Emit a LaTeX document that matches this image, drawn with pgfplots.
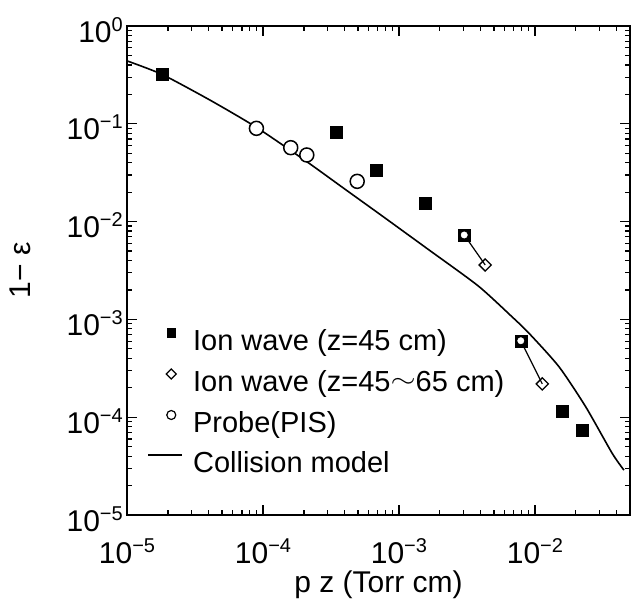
\documentclass[border=0pt]{standalone}
\usepackage{fontspec}
\setmainfont{Liberation Sans}
\usepackage{graphicx}
\usepackage{pgfplots}
\pgfplotsset{compat=1.18}
\newcommand\tickfont{\fontsize{30}{36}\selectfont}
\newcommand\legfont{\fontsize{29}{34}\selectfont}
\newcommand\pw[1]{10\raisebox{11pt}{\fontsize{20}{20}\selectfont #1}}
\pgfplotsset{
  markleg/.style={legend image code/.code={
    \path[draw=none, fill=none] (0pt,10pt) -- (34pt,10pt);
    \draw[##1] plot coordinates {(23pt,10pt)};}},
  lineleg/.style={legend image code/.code={
    \draw[##1] (0pt,10pt) -- (34pt,10pt);}},
}
\tikzset{tk/.style={black, line width=1.2pt}}

\begin{document}
\begin{tikzpicture}
\begin{axis}[
  scale only axis, width=503pt, height=489pt,
  xmode=log, ymode=log,
  xmin=1e-5, xmax=0.05, ymin=1e-5, ymax=1,
  xticklabels={}, yticklabels={},
  extra x ticks={1e-5,1e-4,1e-3,1e-2},
  extra x tick labels={\pw{−5},\pw{−4},\pw{−3},\pw{−2}},
  extra y ticks={1e-5,1e-4,1e-3,1e-2,1e-1,1},
  extra y tick labels={\pw{−5},\pw{−4},\pw{−3},\pw{−2},\pw{−1},\pw{0}},
  extra tick style={tickwidth=0pt, subtickwidth=0pt},
  tick align=inside,
  tickwidth=10pt, subtickwidth=5pt,
  tick style={black, line width=1.2pt},
  axis line style={line width=1.6pt},
  tick label style={font=\tickfont, inner sep=0pt},
  xticklabel style={anchor=base, yshift=-48pt},
  yticklabel style={anchor=base east, xshift=-4pt, yshift=-16pt},
  xlabel={p z (Torr cm)},
  ylabel={1− ε},
  label style={font=\tickfont},
  xlabel style={at={(rel axis cs:0.5,-0.1575)}, anchor=base},
  ylabel style={at={(rel axis cs:-0.2128,0.5)}, anchor=center},
  legend style={at={(rel axis cs:0,0)}, anchor=south west,
    xshift=20.5pt, yshift=36.5pt, draw=none, fill=none,
    font=\legfont, inner sep=0pt, outer sep=0pt,
    row sep=13pt, column sep=10pt,
    nodes={inner sep=0pt, text height=21pt, text depth=6pt}},
  legend cell align=left,
]
\addlegendimage{markleg, mark=square*, mark size=4.3pt, black}
\addlegendentry{Ion wave (z=45 cm)}
\addlegendimage{markleg, mark=square, mark size=3.5pt, line width=1.2pt, mark options={rotate=45}, black}
\addlegendentry{Ion wave (z=45\raisebox{4pt}{\scalebox{1.3}[1]{$\sim$}}65 cm)}
\addlegendimage{markleg, mark=o, mark size=4.5pt, line width=1.2pt, black}
\addlegendentry{Probe(PIS)}
\addlegendimage{lineleg, line width=1.6pt, black}
\addlegendentry{Collision model}

% frame ticks, all four sides, pointing inwards
\pgfplotsinvokeforeach{1e-5,1e-4,1e-3,1e-2}{
  \draw[tk] (axis cs:#1,1e-5) -- ++(0pt,10pt);
  \draw[tk] (axis cs:#1,1) -- ++(0pt,-10pt);
}
\pgfplotsinvokeforeach{1e-5,1e-4,1e-3,1e-2,1e-1,1}{
  \draw[tk] (axis cs:1e-5,#1) -- ++(10pt,0pt);
  \draw[tk] (axis cs:0.05,#1) -- ++(-10pt,0pt);
}
\pgfplotsinvokeforeach{2,3,4,5,6,7,8,9}{
  \draw[tk] (axis cs:#1e-5,1e-5) -- ++(0pt,5pt);
  \draw[tk] (axis cs:#1e-4,1e-5) -- ++(0pt,5pt);
  \draw[tk] (axis cs:#1e-3,1e-5) -- ++(0pt,5pt);
  \draw[tk] (axis cs:#1e-2,1e-5) -- ++(0pt,5pt);
  \draw[tk] (axis cs:#1e-5,1) -- ++(0pt,-5pt);
  \draw[tk] (axis cs:#1e-4,1) -- ++(0pt,-5pt);
  \draw[tk] (axis cs:#1e-3,1) -- ++(0pt,-5pt);
  \draw[tk] (axis cs:#1e-2,1) -- ++(0pt,-5pt);
  \draw[tk] (axis cs:1e-5,#1e-5) -- ++(5pt,0pt);
  \draw[tk] (axis cs:1e-5,#1e-4) -- ++(5pt,0pt);
  \draw[tk] (axis cs:1e-5,#1e-3) -- ++(5pt,0pt);
  \draw[tk] (axis cs:1e-5,#1e-2) -- ++(5pt,0pt);
  \draw[tk] (axis cs:1e-5,#1e-1) -- ++(5pt,0pt);
  \draw[tk] (axis cs:0.05,#1e-5) -- ++(-5pt,0pt);
  \draw[tk] (axis cs:0.05,#1e-4) -- ++(-5pt,0pt);
  \draw[tk] (axis cs:0.05,#1e-3) -- ++(-5pt,0pt);
  \draw[tk] (axis cs:0.05,#1e-2) -- ++(-5pt,0pt);
  \draw[tk] (axis cs:0.05,#1e-1) -- ++(-5pt,0pt);
}

% collision model curve
\addplot[forget plot, black, line width=1.6pt, smooth, tension=0.4] coordinates {
  (1e-5,0.44) (1.81e-5,0.32) (4.07e-5,0.175) (8.95e-5,0.092)
  (2.1e-4,0.041) (4.0e-4,0.0215) (7.48e-4,0.0115) (1.59e-3,5.37e-3)
  (3.81e-3,2.21e-3) (6.8e-3,1.06e-3) (9.06e-3,7.2e-4) (1.503e-2,3.28e-4)
  (2.36e-2,1.28e-4) (3.7e-2,4.27e-5) (4.51e-2,2.88e-5)
};

% ion wave z=45 cm
\addplot[forget plot, only marks, mark=square*, mark size=6pt, black] coordinates {
  (1.81e-5,0.323) (3.47e-4,0.0826) (6.86e-4,0.0339) (1.55e-3,0.0154)
  (1.574e-2,1.16e-4) (2.23e-2,7.28e-5)
};

% ion wave z=45~65 cm: start point and end point joined
\addplot[forget plot, black, line width=1.2pt] coordinates {(3.02e-3,7.3e-3) (4.31e-3,3.6e-3)};
\addplot[forget plot, black, line width=1.2pt] coordinates {(7.87e-3,6.05e-4) (1.132e-2,2.19e-4)};
\addplot[forget plot, only marks, mark=square*, mark size=6pt, black] coordinates {
  (3.02e-3,7.3e-3) (7.87e-3,6.05e-4)
};
\addplot[forget plot, only marks, mark=*, mark size=3.2pt, white] coordinates {
  (3.02e-3,7.3e-3) (7.87e-3,6.05e-4)
};
\addplot[forget plot, only marks, mark=square, mark size=4.3pt, line width=1.3pt,
  mark options={rotate=45, fill=white}, black] coordinates {
  (4.31e-3,3.6e-3) (1.132e-2,2.19e-4)
};

% probe (PIS)
\addplot[forget plot, only marks, mark=*, mark size=7pt, line width=1.5pt,
  mark options={fill=white, draw=black}] coordinates {
  (8.95e-5,0.0899) (1.6e-4,0.057) (2.1e-4,0.048) (4.93e-4,0.0258)
};

\coordinate (sw) at (rel axis cs:0,0);
\coordinate (ne) at (rel axis cs:1,1);
\end{axis}
\path ([shift={(-127pt,-83pt)}]sw) rectangle ([shift={(8pt,26pt)}]ne);
\end{tikzpicture}
\end{document}
